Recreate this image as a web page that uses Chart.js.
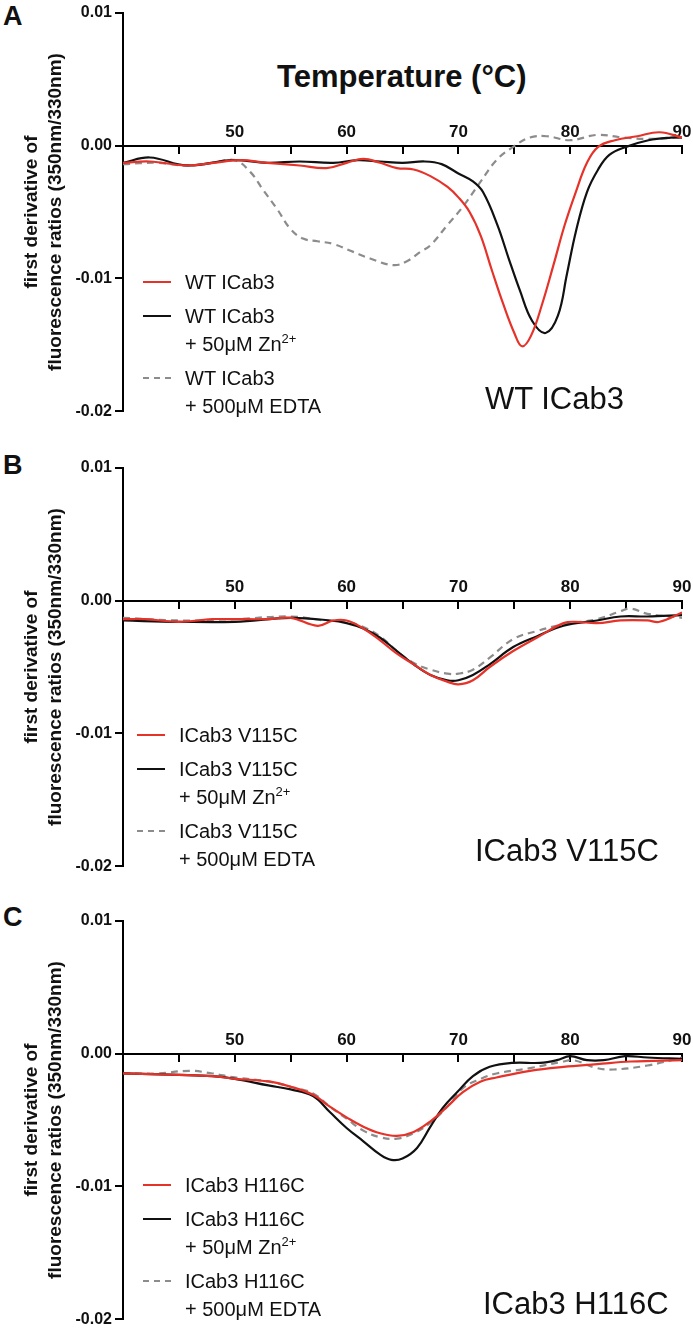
<!DOCTYPE html>
<html>
<head>
<meta charset="utf-8">
<script src="https://cdn.jsdelivr.net/npm/chart.js"></script>
<style>
  body { margin: 0; width: 693px; height: 1332px; position: relative; overflow: hidden; background: #fff;
         font-family: 'Liberation Sans', Arial, sans-serif; color: #111; }
  canvas { position: absolute; left: 0; }
  .tag { position: absolute; left: 3px; font-weight: bold; font-size: 27px; line-height: 27px; }
  .xtitle { position: absolute; left: 277px; top: 61px; font-weight: bold; font-size: 31px; line-height: 31px; }
  .name { position: absolute; font-size: 31px; line-height: 31px; white-space: nowrap; }
  .legend { position: absolute; font-size: 20px; line-height: 28px; white-space: nowrap; }
  .legend .row { position: relative; padding-left: 42px; margin-bottom: 6px; }
  .legend .swatch { position: absolute; left: 0; top: 13px; width: 28px; border-top: 2px solid; }
  .legend sup { position: relative; top: -8px; font-size: 13px; vertical-align: baseline; line-height: 0; }
</style>
</head>
<body>

<div class="tag" style="top:3px">A</div>
<div class="tag" style="top:452px">B</div>
<div class="tag" style="top:904px">C</div>
<div class="xtitle">Temperature (°C)</div>

<canvas id="chartA" width="693" height="424" style="top:0px"></canvas>
<canvas id="chartB" width="693" height="424" style="top:455px"></canvas>
<canvas id="chartC" width="693" height="424" style="top:908px"></canvas>

<div class="legend" style="left:143px; top:268px">
  <div class="row"><span class="swatch" style="border-color:#e5332a"></span>WT ICab3</div>
  <div class="row"><span class="swatch" style="border-color:#111"></span>WT ICab3<br>+ 50μM Zn<sup>2+</sup></div>
  <div class="row"><span class="swatch" style="border-color:#8c8c8c; border-top-style:dashed"></span>WT ICab3<br>+ 500μM EDTA</div>
</div>
<div class="legend" style="left:137px; top:721px">
  <div class="row"><span class="swatch" style="border-color:#e5332a"></span>ICab3 V115C</div>
  <div class="row"><span class="swatch" style="border-color:#111"></span>ICab3 V115C<br>+ 50μM Zn<sup>2+</sup></div>
  <div class="row"><span class="swatch" style="border-color:#8c8c8c; border-top-style:dashed"></span>ICab3 V115C<br>+ 500μM EDTA</div>
</div>
<div class="legend" style="left:143px; top:1171px">
  <div class="row"><span class="swatch" style="border-color:#e5332a"></span>ICab3 H116C</div>
  <div class="row"><span class="swatch" style="border-color:#111"></span>ICab3 H116C<br>+ 50μM Zn<sup>2+</sup></div>
  <div class="row"><span class="swatch" style="border-color:#8c8c8c; border-top-style:dashed"></span>ICab3 H116C<br>+ 500μM EDTA</div>
</div>

<div class="name" style="left:485px; top:383px">WT ICab3</div>
<div class="name" style="left:475px; top:835px">ICab3 V115C</div>
<div class="name" style="left:483px; top:1288px">ICab3 H116C</div>

<script>
// Axis ticks
const xTickLabels = [50, 60, 70, 80, 90];
const yTicks = [-0.02, -0.01, 0, 0.01];

// Panel A - WT ICab3
const wtTemp = [40, 42.4, 45.7, 48.1, 50.5, 52.9, 55.8, 58.2, 60, 61.5, 63, 64.5, 66, 67.5, 69, 70, 71, 72, 73, 74, 75, 75.7, 76.5, 77.5, 78.5, 79.5, 80.5, 81.5, 82.5, 84, 86, 88, 90];
const wtVal = [-0.0013, -0.0012, -0.0015, -0.0013, -0.0011, -0.0013, -0.0015, -0.0017, -0.0013, -0.0010, -0.0013, -0.0017, -0.0018, -0.0023, -0.0031, -0.0039, -0.0050, -0.0068, -0.0094, -0.0119, -0.0141, -0.0151, -0.0143, -0.0119, -0.0090, -0.0060, -0.0035, -0.0013, -0.0001, 0.0004, 0.0007, 0.0010, 0.0006];

const wtZnTemp = [40, 42.4, 45.7, 49.8, 52.9, 55.8, 58.8, 61, 63, 65, 67, 68.5, 70, 71.3, 72.2, 73.5, 74.5, 75.5, 76.6, 77.8, 78.9, 79.7, 80.5, 81.5, 82.5, 83.5, 85, 87, 89, 90];
const wtZnVal = [-0.0013, -0.0009, -0.0015, -0.0011, -0.0013, -0.0012, -0.0013, -0.0011, -0.0012, -0.0013, -0.0012, -0.0014, -0.0021, -0.0027, -0.0035, -0.0060, -0.0085, -0.0109, -0.0132, -0.0141, -0.0128, -0.0097, -0.0065, -0.0035, -0.0018, -0.0007, -0.0001, 0.0004, 0.0006, 0.0006];

const wtEdtaTemp = [40, 43, 45.5, 48, 50, 51.4, 52.5, 53.8, 55, 56.1, 57.4, 58.8, 60.6, 62.1, 64.2, 65.4, 66.6, 67.5, 69, 70.4, 72, 73.4, 74.9, 76.4, 77.9, 80, 82.4, 84.7, 87, 90];
const wtEdtaVal = [-0.0014, -0.0013, -0.0015, -0.0013, -0.0011, -0.0020, -0.0033, -0.0048, -0.0063, -0.0070, -0.0072, -0.0074, -0.0080, -0.0085, -0.0090, -0.0087, -0.0080, -0.0075, -0.0060, -0.0046, -0.0027, -0.0011, -0.0001, 0.0006, 0.0007, 0.0004, 0.0008, 0.0006, 0.0005, 0.0006];

// Panel B - ICab3 V115C
const v115cTemp = [40, 42, 45, 48, 50, 53, 55, 57.4, 58.8, 60, 61.5, 63, 64.5, 66, 67.5, 69, 70, 71.3, 72.8, 74.9, 77, 79.4, 80.5, 82.4, 84.5, 86.9, 88, 90];
const v115cVal = [-0.0014, -0.0014, -0.0016, -0.0014, -0.0014, -0.0014, -0.0013, -0.0019, -0.0015, -0.0015, -0.0021, -0.0030, -0.0040, -0.0048, -0.0056, -0.0061, -0.0063, -0.0060, -0.0050, -0.0038, -0.0028, -0.0017, -0.0016, -0.0017, -0.0015, -0.0015, -0.0016, -0.0009];

const v115cZnTemp = [40, 45, 50, 55, 58.5, 60, 61.5, 63, 64.5, 66, 67.5, 69, 70, 71.3, 72.8, 74.9, 77, 79.4, 82.4, 84.5, 86.9, 90];
const v115cZnVal = [-0.0015, -0.0016, -0.0016, -0.0013, -0.0015, -0.0017, -0.0021, -0.0028, -0.0038, -0.0048, -0.0056, -0.0060, -0.0060, -0.0056, -0.0048, -0.0035, -0.0027, -0.0019, -0.0015, -0.0012, -0.0012, -0.0011];

const v115cEdtaTemp = [40, 45, 50, 55, 58, 60, 61.5, 63, 64.5, 66, 67.5, 69, 70, 71.3, 72.8, 74.9, 77, 79.4, 82.4, 84.5, 85.4, 86.9, 90];
const v115cEdtaVal = [-0.0013, -0.0015, -0.0014, -0.0012, -0.0015, -0.0016, -0.0020, -0.0027, -0.0038, -0.0047, -0.0052, -0.0055, -0.0055, -0.0052, -0.0043, -0.0029, -0.0023, -0.0018, -0.0014, -0.0008, -0.0006, -0.0010, -0.0013];

// Panel C - ICab3 H116C
const h116cTemp = [40, 45, 48, 50, 53, 55, 57, 58.5, 60, 61.5, 63, 64.5, 66, 67.5, 69, 70.4, 72, 73.4, 76.4, 79.4, 82.4, 85.4, 90];
const h116cVal = [-0.0015, -0.0016, -0.0017, -0.0019, -0.0021, -0.0025, -0.0031, -0.0040, -0.0048, -0.0055, -0.0060, -0.0062, -0.0059, -0.0051, -0.0040, -0.0029, -0.0021, -0.0018, -0.0013, -0.0010, -0.0008, -0.0006, -0.0005];

const h116cZnTemp = [40, 45, 48, 50, 53, 55, 57, 58.5, 60, 61.5, 63, 64, 65, 66.3, 67.5, 68.6, 69.9, 71.3, 72.8, 74.9, 77.3, 78.8, 80, 81.5, 83, 84.9, 86.9, 90];
const h116cZnVal = [-0.0015, -0.0016, -0.0017, -0.0019, -0.0024, -0.0027, -0.0032, -0.0044, -0.0056, -0.0066, -0.0076, -0.0080, -0.0079, -0.0071, -0.0055, -0.0041, -0.0029, -0.0017, -0.0010, -0.0007, -0.0007, -0.0005, -0.0002, -0.0005, -0.0005, -0.0002, -0.0003, -0.0004];

const h116cEdtaTemp = [40, 43, 46, 48, 50, 53, 55, 57, 58.5, 60, 61.5, 63, 64.5, 66, 67.5, 69, 70.4, 72, 73.4, 76.4, 79.4, 80.3, 82.4, 83.9, 86.9, 90];
const h116cEdtaVal = [-0.0015, -0.0015, -0.0013, -0.0015, -0.0018, -0.0021, -0.0025, -0.0030, -0.0040, -0.0049, -0.0058, -0.0063, -0.0064, -0.0060, -0.0052, -0.0040, -0.0026, -0.0019, -0.0015, -0.0011, -0.0006, -0.0005, -0.0011, -0.0012, -0.0009, -0.0003];

const RED = '#e5332a';
const BLACK = '#111111';
const GREY = '#8c8c8c';
const FONT = "'Liberation Sans', Arial, sans-serif";

function points(temps, vals) {
    return temps.map((t, i) => ({ x: t, y: vals[i] }));
}

function series(temps, vals, color, dashed) {
    return {
        data: points(temps, vals),
        borderColor: color,
        borderWidth: 2.2,
        borderDash: dashed ? [7, 5] : [],
        pointRadius: 0,
        fill: false,
        tension: 0.4
    };
}

function makePanel(id, datasets) {
    new Chart(document.getElementById(id), {
        type: 'line',
        data: { datasets: datasets },
        options: {
            responsive: false,
            animation: false,
            devicePixelRatio: 1,
            layout: { padding: { top: 10, bottom: 6, left: 0, right: 11 } },
            plugins: { legend: { display: false }, tooltip: { enabled: false } },
            scales: {
                x: {
                    type: 'linear',
                    min: 40,
                    max: 90,
                    position: { y: 0 },
                    border: { display: true, color: '#000', width: 2 },
                    grid: { drawOnChartArea: false, drawTicks: true, tickLength: 7, color: '#000', lineWidth: 2 },
                    ticks: {
                        stepSize: 5,
                        autoSkip: false,
                        maxRotation: 0,
                        padding: -30,
                        color: '#111',
                        font: { family: FONT, size: 17, weight: 'bold' },
                        callback: v => xTickLabels.includes(v) ? String(v) : ''
                    }
                },
                y: {
                    type: 'linear',
                    position: 'left',
                    min: yTicks[0],
                    max: yTicks[yTicks.length - 1],
                    afterFit: scale => { scale.width = 123; },
                    afterBuildTicks: scale => { scale.ticks = yTicks.map(v => ({ value: v })); },
                    border: { display: true, color: '#000', width: 2 },
                    grid: { drawOnChartArea: false, drawTicks: true, tickLength: 8, color: '#000', lineWidth: 2 },
                    ticks: {
                        padding: 3,
                        color: '#111',
                        font: { family: FONT, size: 16, weight: 'bold' },
                        callback: v => Math.abs(v) < 1e-9 ? '0.00' : v.toFixed(2)
                    },
                    title: {
                        display: true,
                        text: ['first derivative of', 'fluorescence ratios (350nm/330nm)'],
                        color: '#111',
                        padding: { top: 19, bottom: 0 },
                        font: { family: FONT, size: 19, weight: 'bold', lineHeight: 1.3 }
                    }
                }
            }
        }
    });
}

makePanel('chartA', [
    series(wtTemp, wtVal, RED, false),
    series(wtZnTemp, wtZnVal, BLACK, false),
    series(wtEdtaTemp, wtEdtaVal, GREY, true)
]);

makePanel('chartB', [
    series(v115cTemp, v115cVal, RED, false),
    series(v115cZnTemp, v115cZnVal, BLACK, false),
    series(v115cEdtaTemp, v115cEdtaVal, GREY, true)
]);

makePanel('chartC', [
    series(h116cTemp, h116cVal, RED, false),
    series(h116cZnTemp, h116cZnVal, BLACK, false),
    series(h116cEdtaTemp, h116cEdtaVal, GREY, true)
]);
</script>
</body>
</html>
